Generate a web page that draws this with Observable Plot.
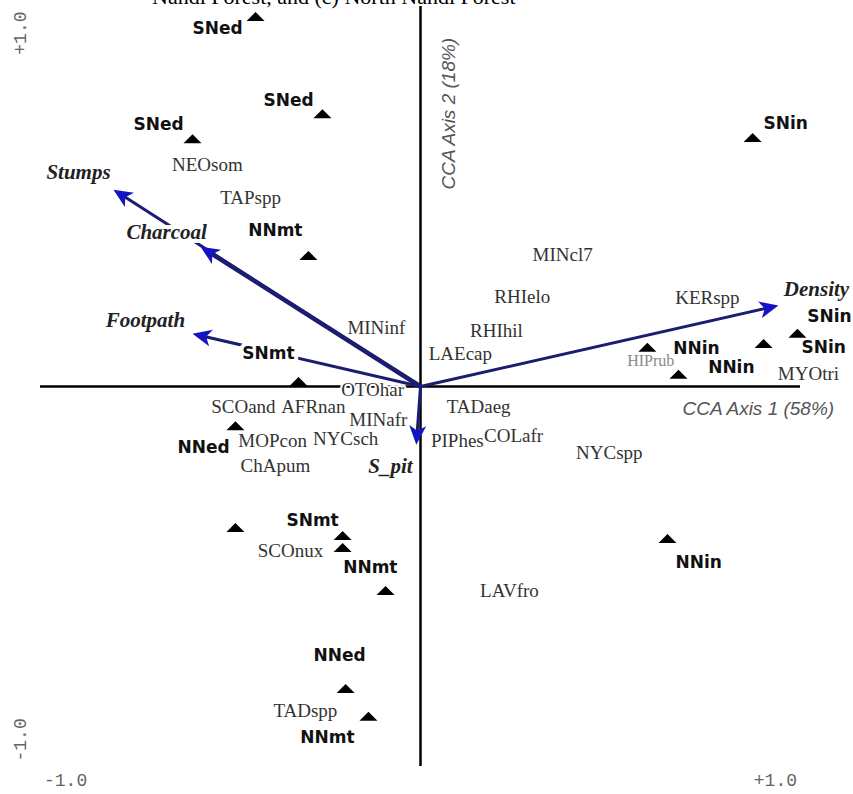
<!DOCTYPE html>
<html><head><meta charset="utf-8">
<script src="https://cdn.jsdelivr.net/npm/d3@7"></script>
<script src="https://cdn.jsdelivr.net/npm/@observablehq/plot@0.6"></script>
<style>
html,body{margin:0;padding:0;background:#fff;}
#wrap{position:relative;width:853px;height:794px;overflow:hidden;}
#title{position:absolute;left:152px;top:-14px;font:22px "Liberation Serif",serif;color:#000;white-space:nowrap;line-height:1;}
</style></head><body>
<div id="wrap"><div id="chart"></div><div id="title">Nandi Forest, and (c) North Nandi Forest</div></div>
<script>
// Sample sites (triangles)
const siteX = [-0.434, -0.258, -0.600, -0.295, -0.321, -0.487, 0.874, 0.992, 0.903, 0.597, 0.679, -0.487, -0.205, -0.205, -0.092, 0.650, -0.197, -0.137];
const siteY = [0.974, 0.718, 0.652, 0.345, 0.013, -0.103, 0.655, 0.140, 0.113, 0.103, 0.032, -0.371, -0.392, -0.424, -0.537, -0.400, -0.795, -0.868];
// Site labels
const siteNames = ["SNed","SNed","SNed","NNmt","SNmt","NNed","SNin","SNin","SNin","NNin","NNin","SNmt","NNmt","NNin","NNed","NNmt"];
const siteLabelX = [-0.534, -0.347, -0.689, -0.382, -0.400, -0.571, 0.961, 1.076, 1.061, 0.726, 0.818, -0.284, -0.132, 0.732, -0.213, -0.245];
const siteLabelY = [0.942, 0.753, 0.689, 0.411, 0.087, -0.161, 0.692, 0.184, 0.103, 0.100, 0.050, -0.353, -0.476, -0.463, -0.708, -0.924];
// Species labels
const speciesNames = ["NEOsom","TAPspp","MINcl7","RHIelo","RHIhil","LAEcap","KERspp","HIPrub","MYOtri","TADaeg","PIPhes","COLafr","NYCspp","MINinf","OTOhar","SCOand","AFRnan","MINafr","MOPcon","NYCsch","ChApum","SCOnux","LAVfro","TADspp"];
const speciesX = [-0.561, -0.447, 0.374, 0.268, 0.200, 0.105, 0.755, 0.606, 1.021, 0.153, 0.097, 0.245, 0.497, -0.116, -0.126, -0.466, -0.282, -0.111, -0.389, -0.197, -0.382, -0.342, 0.234, -0.303];
const speciesY = [0.582, 0.495, 0.345, 0.237, 0.147, 0.087, 0.234, 0.068, 0.034, -0.055, -0.142, -0.129, -0.174, 0.155, -0.008, -0.055, -0.053, -0.087, -0.142, -0.137, -0.208, -0.432, -0.537, -0.853];
// Environmental vectors
const envNames = ["Stumps","Charcoal","Footpath","Density","S_pit"];
const envX = [-0.808, -0.579, -0.600, 0.942, -0.011];
const envY = [0.518, 0.368, 0.139, 0.213, -0.153];
const envLabelX = [-0.900, -0.668, -0.724, 1.042, -0.079];
const envLabelY = [0.563, 0.405, 0.174, 0.255, -0.211];
const envWidth = ["thin","thick","thin","thin","thin"];
// Axis titles and tick labels
const axisTitles = ["CCA Axis 1 (58%)", "CCA Axis 2 (18%)"];
const xTickLabels = ["-1.0", "+1.0"];
const xTickValues = [-1, 1];
const yTickLabels = ["+1.0", "-1.0"];
const yTickValues = [1, -1];

const sites = siteX.map((x, i) => ({x, y: siteY[i]}));
const siteLabels = siteNames.map((t, i) => ({t, x: siteLabelX[i], y: siteLabelY[i]}));
const species = speciesNames.map((t, i) => ({t, x: speciesX[i], y: speciesY[i]}));
const env = envNames.map((t, i) => ({t, x: envX[i], y: envY[i], lx: envLabelX[i], ly: envLabelY[i], w: envWidth[i]}));

const W = 853, H = 794, mL = 40, mR = 53, mT = 6, mB = 28;
const kx = (W - mL - mR) / 2, ky = (H - mT - mB) / 2;
// shorten line end so the arrowhead covers it
const shortEnd = (d, c) => {
  const px = d.x * kx, py = d.y * ky, len = Math.hypot(px, py);
  const f = Math.max(0, 1 - 10 / len);
  return c === "x" ? d.x * f : d.y * f;
};
const angle = d => Math.atan2(d.x * kx, d.y * ky) * 180 / Math.PI;

const tri = {draw(ctx) { ctx.moveTo(0, -4.5); ctx.lineTo(9, 4.5); ctx.lineTo(-9, 4.5); ctx.closePath(); }};
const head = {draw(ctx) { ctx.moveTo(0, 0); ctx.lineTo(8.5, 19); ctx.lineTo(0, 14); ctx.lineTo(-8.5, 19); ctx.closePath(); }};

const lineColor = "#1c1c72", headColor = "#1414c4";

const chart = Plot.plot({
  width: W, height: H,
  marginLeft: mL, marginRight: mR, marginTop: mT, marginBottom: mB,
  x: {domain: [-1, 1], axis: null},
  y: {domain: [-1, 1], axis: null},
  style: {background: "#fff", overflow: "visible"},
  marks: [
    Plot.ruleY([0], {stroke: "#000", strokeWidth: 2.5}),
    Plot.ruleX([0], {stroke: "#000", strokeWidth: 2.5}),
    Plot.link(env.filter(d => d.w === "thin"), {x1: d => 0, y1: d => 0, x2: d => shortEnd(d, "x"), y2: d => shortEnd(d, "y"), stroke: lineColor, strokeWidth: 3}),
    Plot.link(env.filter(d => d.w === "thick"), {x1: d => 0, y1: d => 0, x2: d => shortEnd(d, "x"), y2: d => shortEnd(d, "y"), stroke: lineColor, strokeWidth: 4.5}),
    Plot.dot(env, {x: "x", y: "y", symbol: head, rotate: angle, fill: headColor, stroke: "none"}),
    // tick labels
    Plot.text(xTickValues, {x: d => d * 0.934, y: d => -1.037, text: (d, i) => xTickLabels[i], textAnchor: "middle", fontFamily: "Liberation Mono, monospace", fontSize: 18, fill: "#666"}),
    Plot.text(yTickValues, {x: d => -1.053, y: d => d * 0.93, text: (d, i) => yTickLabels[i], rotate: -90, textAnchor: "middle", fontFamily: "Liberation Mono, monospace", fontSize: 18, fill: "#666"}),
    // axis titles
    Plot.text([axisTitles[0]], {x: d => 0.889, y: d => -0.058, text: d => d, fontFamily: "Liberation Sans, Arial, sans-serif", fontStyle: "italic", fontSize: 19, fill: "#555"}),
    Plot.text([axisTitles[1]], {x: d => 0.074, y: d => 0.718, text: d => d, rotate: -90, fontFamily: "Liberation Sans, Arial, sans-serif", fontStyle: "italic", fontSize: 19, fill: "#555"}),
    // species
    Plot.text(species.filter(d => d.t !== "HIPrub"), {x: "x", y: "y", text: "t", fontFamily: "Liberation Serif, Times New Roman, serif", fontSize: 19, fill: "#333", stroke: "white", strokeWidth: 4}),
    Plot.text(species.filter(d => d.t === "HIPrub"), {x: "x", y: "y", text: "t", fontFamily: "Liberation Serif, Times New Roman, serif", fontSize: 16, fill: "#888", stroke: "white", strokeWidth: 3}),
    // environmental labels
    Plot.text(env, {x: "lx", y: "ly", text: "t", fontFamily: "Liberation Serif, Times New Roman, serif", fontStyle: "italic", fontWeight: "bold", fontSize: 21, fill: "#222", stroke: "white", strokeWidth: 8}),
    // site labels
    Plot.text(siteLabels, {x: "x", y: "y", text: "t", fontFamily: "DejaVu Sans, sans-serif", fontWeight: "bold", fontSize: 17, fill: "#111", stroke: "white", strokeWidth: 8}),
    // site triangles
    Plot.dot(sites, {x: "x", y: "y", symbol: tri, fill: "#000", stroke: "none"})
  ]
});
document.getElementById("chart").appendChild(chart);
</script></body></html>
